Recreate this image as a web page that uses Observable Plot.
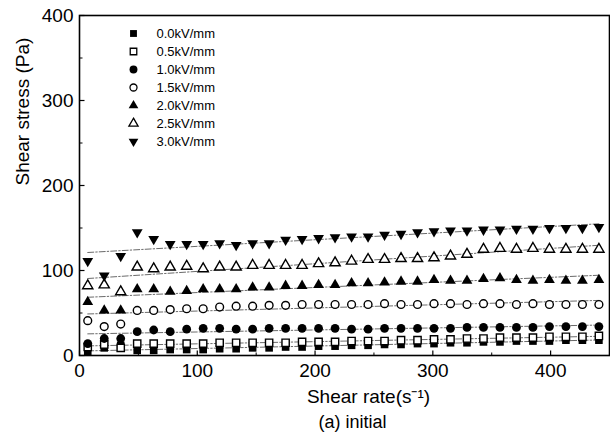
<!DOCTYPE html>
<html><head><meta charset="utf-8">
<script src="https://cdn.jsdelivr.net/npm/d3@7"></script>
<script src="https://cdn.jsdelivr.net/npm/@observablehq/plot@0.6"></script>
<style>
html,body{margin:0;padding:0;background:#fff;}
#wrap{position:relative;width:610px;height:442px;overflow:hidden;}
#wrap svg{position:absolute;left:0;top:0;}
</style></head><body><div id="wrap"></div>
<script>
// ---- data ----
const shearRate = [7,21,35,49,63,77,91,105,119,133,147,161,175,189,203,217,231,245,259,273,287,301,315,329,343,357,371,385,399,413,427,441];
const seriesNames = ["0.0kV/mm","0.5kV/mm","1.0kV/mm","1.5kV/mm","2.0kV/mm","2.5kV/mm","3.0kV/mm"];
const stress00 = [4,9,12,6,6,7,7,7,8,8,9,9,10,10,11,11,12,12,13,13,14,14,15,15,16,16,17,17,17,18,18,18];
const stress05 = [10,13,9,14,14,14,14,14,15,15,15,15,15,16,16,16,17,17,17,18,18,19,19,20,20,21,21,21,22,22,22,23];
const stress10 = [14,20,20,28,30,28,31,32,32,31,31,32,32,32,32,32,31,31,32,32,32,32,32,33,33,33,33,33,34,34,34,34];
const stress15 = [41,34,37,53,53,54,55,55,57,58,58,59,59,60,60,60,60,60,61,60,60,61,61,60,61,61,60,61,60,60,60,60];
const stress20 = [63,53,53,78,78,75,76,78,78,78,80,80,82,82,83,83,85,85,86,87,87,89,88,88,90,91,89,88,89,88,88,89];
const stress25 = [82,83,75,104,102,104,105,102,104,104,106,106,106,106,108,109,111,113,113,114,114,115,117,119,125,126,125,126,125,125,125,125];
const stress30 = [111,94,117,145,137,131,131,131,132,130,132,132,136,137,138,139,140,140,142,143,145,146,147,147,148,148,149,149,150,150,150,151];
const xTicks = [0,100,200,300,400];
const yTicks = [0,100,200,300,400];
const xMinor = [50,150,250,350];
const yMinor = [50,150,250,350];

// ---- symbols ----
const downTriangle = {draw(ctx, size){
  const y = -Math.sqrt(size / (Math.sqrt(3) * 3));
  ctx.moveTo(0, -2 * y);
  ctx.lineTo(-Math.sqrt(3) * y, y);
  ctx.lineTo(Math.sqrt(3) * y, y);
  ctx.closePath();
}};
const tickUp = {draw(ctx, size){ const l = Math.sqrt(size / Math.PI); ctx.moveTo(0,0); ctx.lineTo(0,-l); }};
const tickRight = {draw(ctx, size){ const l = Math.sqrt(size / Math.PI); ctx.moveTo(0,0); ctx.lineTo(l,0); }};

const styles = [
  {symbol:"square", fill:"black", stroke:"none", r:4.3},
  {symbol:"square", fill:"white", stroke:"black", r:4.1},
  {symbol:"circle", fill:"black", stroke:"none", r:4.4},
  {symbol:"circle", fill:"white", stroke:"black", r:3.9},
  {symbol:"triangle", fill:"black", stroke:"none", r:4.0},
  {symbol:"triangle", fill:"white", stroke:"black", r:3.8},
  {symbol:downTriangle, fill:"black", stroke:"none", r:4.0}
];
const allStress = [stress00, stress05, stress10, stress15, stress20, stress25, stress30];
const tables = allStress.map((vals, k) => shearRate.map((x, i) => ({series: seriesNames[k], x, y: vals[i]})));

const font = "Liberation Sans, Arial, Helvetica, sans-serif";

const fits = tables.map(t => Plot.linearRegressionY(t, {x:"x", y:"y", ci:0, stroke:"#444", strokeWidth:0.8, strokeDasharray:"6,2,1.5,2"}));
const dots = tables.map((t, k) => Plot.dot(t, {x:"x", y:"y", symbol: styles[k].symbol, fill: styles[k].fill, stroke: styles[k].stroke, strokeWidth:1.4, r: styles[k].r}));

const main = Plot.plot({
  width: 610, height: 442,
  marginLeft: 79, marginRight: 1, marginTop: 15, marginBottom: 87,
  style: {fontFamily: font, fontSize: "19px", color: "black", background: "white"},
  x: {domain:[0,450], ticks: xTicks, tickSize: 0, tickPadding: 8, label: null, tickFormat: d => String(d)},
  y: {domain:[0,400], ticks: yTicks, tickSize: 0, tickPadding: 6, label: null, tickFormat: d => String(d)},
  marks: [
    ...fits,
    ...dots,
    Plot.dot(xTicks, {x: d => d, frameAnchor: "bottom", symbol: tickUp, r: 5, stroke: "black", fill: "none", strokeWidth: 1.2}),
    Plot.dot(xMinor, {x: d => d, frameAnchor: "bottom", symbol: tickUp, r: 3, stroke: "black", fill: "none", strokeWidth: 1}),
    Plot.dot(yTicks, {y: d => d, frameAnchor: "left", symbol: tickRight, r: 5, stroke: "black", fill: "none", strokeWidth: 1.2}),
    Plot.dot(yMinor, {y: d => d, frameAnchor: "left", symbol: tickRight, r: 3, stroke: "black", fill: "none", strokeWidth: 1}),
    Plot.frame({stroke: "black", strokeWidth: 1.6}),
    Plot.text(["Shear stress (Pa)"], {frameAnchor: "left", dx: -57, rotate: -90, fontSize: 19, fontFamily: font, fill: "black"}),
    Plot.text(["Shear rate(s\u207B\u00B9)"], {frameAnchor: "bottom", dy: 47, dx: 24, fontSize: 19, fontFamily: font, fill: "black"}),
    Plot.text(["(a) initial"], {frameAnchor: "bottom", dy: 72, dx: 8, fontSize: 18, fontFamily: font, fill: "black"})
  ]
});

const legendMarks = seriesNames.map((name, k) => Plot.dot([name], {y: d => d, frameAnchor: "left", symbol: styles[k].symbol, fill: styles[k].fill, stroke: styles[k].stroke, strokeWidth: 1.3, r: styles[k].r * 0.9}));
const legend = Plot.plot({
  width: 610, height: 442,
  marginLeft: 133, marginRight: 0, marginTop: 33, marginBottom: 301,
  style: {fontFamily: font, fontSize: "13px", color: "black", background: "none"},
  y: {type: "point", domain: seriesNames, padding: 0, axis: null},
  marks: [
    ...legendMarks,
    Plot.text(seriesNames, {y: d => d, text: d => d, frameAnchor: "left", dx: 23, textAnchor: "start", fontSize: 13, fontFamily: font, fill: "black"})
  ]
});
legend.style.pointerEvents = "none";

const wrap = document.getElementById("wrap");
wrap.appendChild(main);
wrap.appendChild(legend);
</script>
</body></html>
